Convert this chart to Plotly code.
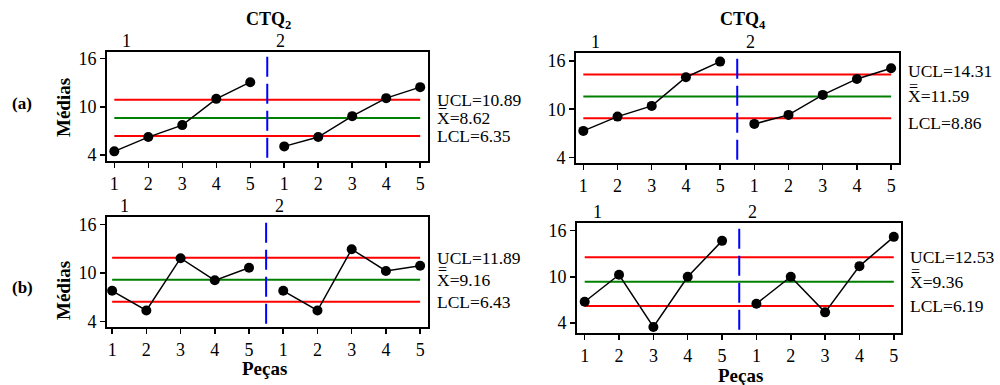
import plotly.graph_objects as go

# ---------------- data ----------------
samples = [1, 2, 3, 4, 5, 6, 7, 8, 9, 10]
tick_text = ["1", "2", "3", "4", "5", "1", "2", "3", "4", "5"]
group_labels = ["1", "2"]
group_size = 5
y_ticks = [4, 10, 16]

ctq2_a = [4.45, 6.23, 7.72, 10.99, 13.07, 5.07, 6.23, 8.84, 11.08, 12.45]
ctq4_a = [7.30, 9.08, 10.41, 13.98, 15.93, 8.17, 9.29, 11.78, 13.77, 15.10]
ctq2_b = [7.79, 5.34, 11.84, 9.09, 10.66, 7.79, 5.34, 12.96, 10.25, 10.90]
ctq4_b = [6.76, 10.26, 3.48, 10.00, 14.66, 6.50, 10.00, 5.38, 11.38, 15.18]

ucl_values = [10.89, 14.31, 11.89, 12.53]
center_values = [8.62, 11.59, 9.16, 9.36]
lcl_values = [6.35, 8.86, 6.43, 6.19]

column_titles = ["CTQ<sub>2</sub>", "CTQ<sub>4</sub>"]
row_labels = ["(a)", "(b)"]
y_title = "Médias"
x_title = "Peças"

series = [ctq2_a, ctq4_a, ctq2_b, ctq4_b]

# ---------------- layout geometry (pixels in the 1000x385 page) ----------------
W, H = 1000, 385
# (left, right, top, bottom) of each plot frame, page pixels
frames = [(107, 428, 52, 161), (576, 899, 53, 163),
          (107, 428, 217, 327), (577, 901, 223, 333)]
y_ranges = [[3.25, 16.83], [3.30, 17.0], [3.29, 16.96], [2.70, 16.98]]
x_ranges = [[0.785, 10.23], [0.786, 10.23], [0.85, 10.23], [0.776, 10.21]]
label_shift = [[0, 0, 0], [4, 0, -5], [0, 0, 0], [0, 0, 0]]

SERIF = "Liberation Serif"
RED = "rgb(255,0,0)"
GREEN = "rgb(0,128,0)"
BLUE = "rgb(0,0,255)"


def px(x):
    return x / W


def py(y):
    return 1 - y / H


fig = go.Figure()
layout = dict(width=W, height=H, margin=dict(l=0, r=0, t=0, b=0, autoexpand=False),
              paper_bgcolor="white", plot_bgcolor="white",
              showlegend=False, font=dict(family=SERIF, size=16, color="black"))
annotations = []
shapes = []


def paper_text(x_px, y_px, text, size, angle=0):
    return dict(x=px(x_px), y=py(y_px), xref="paper", yref="paper",
                text=text, showarrow=False, textangle=angle,
                xanchor="center", yanchor="middle",
                font=dict(family=SERIF, size=size, color="black"))


for i, ys in enumerate(series):
    n = i + 1
    xr = "x" if n == 1 else f"x{n}"
    yr = "y" if n == 1 else f"y{n}"
    left, right, top, bottom = frames[i]
    layout["xaxis" if n == 1 else f"xaxis{n}"] = dict(
        domain=[px(left), px(right)], anchor=yr, range=x_ranges[i],
        tickmode="array", tickvals=samples, ticktext=tick_text,
        ticks="outside", ticklen=5, tickwidth=1.5, tickcolor="black",
        showline=True, linecolor="black", linewidth=2, mirror=True,
        showgrid=False, zeroline=False,
        tickfont=dict(family=SERIF, size=18, color="black"))
    layout["yaxis" if n == 1 else f"yaxis{n}"] = dict(
        domain=[py(bottom), py(top)], anchor=xr, range=y_ranges[i],
        tickmode="array", tickvals=y_ticks,
        ticks="outside", ticklen=5, tickwidth=1.5, tickcolor="black",
        showline=True, linecolor="black", linewidth=2, mirror=True,
        showgrid=False, zeroline=False,
        tickfont=dict(family=SERIF, size=18, color="black"))

    x_ends = [samples[0], samples[-1]]
    for val, col in [(ucl_values[i], RED), (lcl_values[i], RED), (center_values[i], GREEN)]:
        fig.add_trace(go.Scatter(x=x_ends, y=[val, val], mode="lines",
                                 line=dict(color=col, width=2),
                                 xaxis=xr, yaxis=yr, hoverinfo="skip"))
    sep = (samples[group_size - 1] + samples[group_size]) / 2
    group_x = [samples[0] + 0.37, sep + 0.4]
    for g in range(len(group_labels)):
        sl = slice(g * group_size, (g + 1) * group_size)
        fig.add_trace(go.Scatter(x=samples[sl], y=ys[sl], mode="lines+markers",
                                 line=dict(color="black", width=1.5),
                                 marker=dict(color="black", size=10),
                                 xaxis=xr, yaxis=yr))
        annotations.append(dict(
            x=group_x[g], y=1, xref=xr, yref=f"{yr} domain", text=group_labels[g],
            showarrow=False, yanchor="bottom", xanchor="center", yshift=-1,
            font=dict(family=SERIF, size=18, color="black")))
    # separator between groups
    shapes.append(dict(type="line", xref=xr, yref=f"{yr} domain",
                       x0=sep, x1=sep, y0=0.03, y1=0.99,
                       line=dict(color=BLUE, width=2, dash="20px,7px"),
                       layer="above"))
    # limit labels
    texts = [f"UCL={ucl_values[i]:.2f}", f"X={center_values[i]:.2f}",
             f"LCL={lcl_values[i]:.2f}"]
    vals = [ucl_values[i], center_values[i], lcl_values[i]]
    lx = px(right + 7)
    for t, v, s in zip(texts, vals, label_shift[i]):
        annotations.append(dict(x=lx, xref="paper", y=v, yref=yr,
                                text=t, showarrow=False, xanchor="left",
                                yanchor="middle", yshift=s,
                                font=dict(family=SERIF, size=17.5, color="black")))
    # double bar over the X of the centre-line label
    annotations.append(dict(x=lx, xref="paper", y=center_values[i], yref=yr,
                            text="=", showarrow=False, xanchor="left",
                            yanchor="middle", xshift=1, yshift=label_shift[i][1] + 10,
                            font=dict(family=SERIF, size=16, color="black")))

# column titles
annotations.append(paper_text(268, 20, f"<b>{column_titles[0]}</b>", 18))
annotations.append(paper_text(743, 20, f"<b>{column_titles[1]}</b>", 18))
# row labels and y titles
for lab, ymid in zip(row_labels, [104, 287]):
    annotations.append(paper_text(22, ymid, f"<b>{lab}</b>", 17))
    annotations.append(paper_text(63, ymid + 4, f"<b>{y_title}</b>", 19, -90))
# x titles
annotations.append(paper_text(264, 368, f"<b>{x_title}</b>", 19))
annotations.append(paper_text(740, 375, f"<b>{x_title}</b>", 19))

layout["annotations"] = annotations
layout["shapes"] = shapes
fig.update_layout(**layout)
fig.write_html("out.html",
               config={"displayModeBar": False, "staticPlot": True},
               post_script="document.body.style.margin='0';"
                           "document.body.style.overflow='hidden';")
